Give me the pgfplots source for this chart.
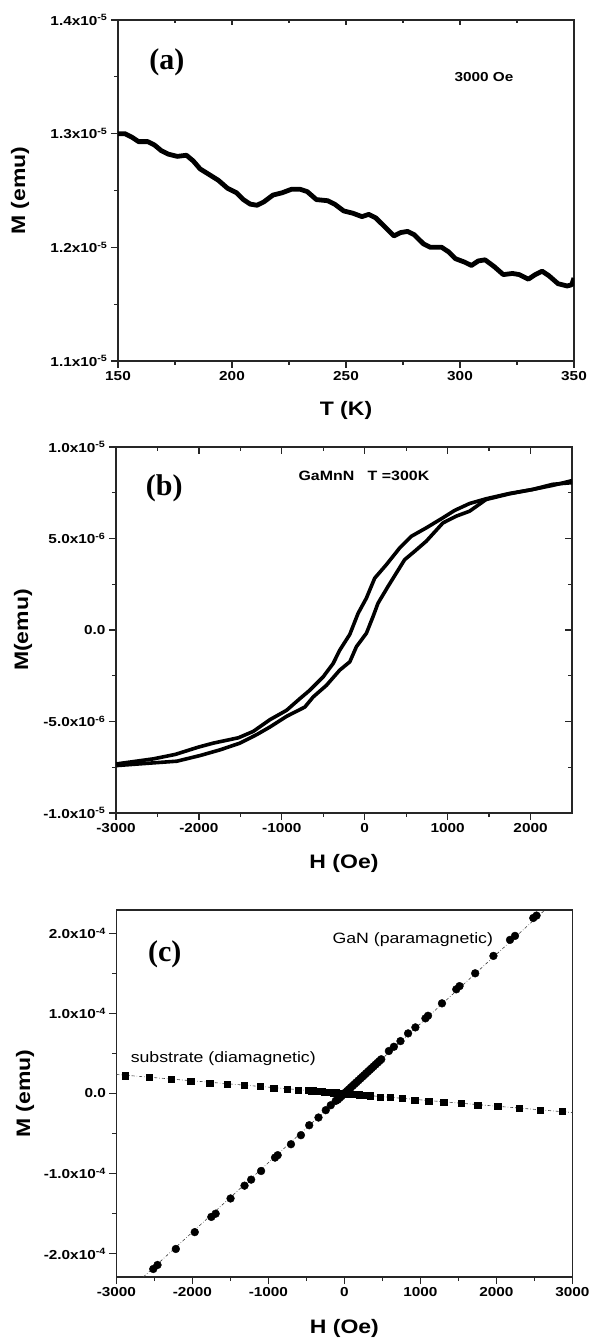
\documentclass[border=0pt]{standalone}
\usepackage{fontspec}
\setmainfont{Liberation Sans}[FakeStretch=1.18]
\newfontfamily\tnr{Liberation Serif}
\usepackage{pgfplots}
\pgfplotsset{compat=1.18}

\newcommand{\tl}{\fontsize{13}{15}\selectfont\bfseries}
\newcommand{\al}{\fontsize{19.5}{21}\selectfont\bfseries}
\newcommand{\pl}{\tnr\fontsize{30}{32}\selectfont\bfseries}
\newcommand{\sci}[2]{#1x10\textsuperscript{#2}}

\pgfplotsset{
  panel/.style={
    scale only axis, width=456pt, anchor=south west,
    axis line style={line width=1.4pt, black!85},
    every tick/.style={line width=1.2pt, black!85},
    major tick length=7pt, minor tick length=4pt,
    tick align=outside, xtick pos=left, ytick pos=left,
    minor x tick num=1, minor y tick num=1,
    tick label style={font=\tl},
    /pgf/number format/assume math mode=true,
    /pgf/number format/1000 sep={},
    label style={font=\al},
  },
  inticks/.style={
    panel, tick align=inside, xtick pos=right, ytick pos=right,
    xticklabels={}, yticklabels={}, axis line style={draw=none},
  },
}

\begin{document}
\begin{tikzpicture}
\path[use as bounding box] (0,0) rectangle (591pt,1338pt);

% ---------------- (a) M vs T
\begin{axis}[panel, at={(118pt,977pt)}, height=341pt,
  xmin=150, xmax=350, ymin=1.1, ymax=1.4,
  xtick={150,200,...,350}, ytick={1.1,1.2,1.3,1.4},
  yticklabels={\sci{1.1}{-5},\sci{1.2}{-5},\sci{1.3}{-5},\sci{1.4}{-5}},
  xlabel={T (K)}, ylabel={M (emu)},
  xlabel style={at={(axis description cs:0.5,-0.144)}, anchor=center},
  ylabel style={at={(axis description cs:-0.215,0.5)}, anchor=center},
]
\addplot[black, line width=4.8pt, line join=round] coordinates {
(150,1.300) (153,1.300) (156,1.297) (159,1.293) (163,1.293) (166,1.290)
(169,1.285) (172,1.282) (176,1.280) (180,1.281) (183,1.276) (186,1.269)
(190,1.264) (194,1.259) (198,1.252) (202,1.248) (205,1.242) (208,1.238)
(211,1.237) (214,1.240) (218,1.246) (222,1.248) (226,1.251) (230,1.251)
(233,1.249) (237,1.242) (242,1.241) (245,1.238) (249,1.232) (253,1.230)
(257,1.227) (260,1.229) (263,1.226) (267,1.218) (271,1.210) (274,1.213)
(277,1.214) (280,1.211) (284,1.203) (287,1.200) (292,1.200) (295,1.196)
(298,1.190) (302,1.187) (305,1.184) (308,1.188) (311,1.189) (315,1.183)
(319,1.176) (323,1.177) (326,1.176) (330,1.172) (333,1.176) (336,1.179)
(339,1.175) (343,1.168) (347,1.166) (349,1.167) (350,1.173)
};
\node[font=\pl] at (axis cs:171.4,1.363) {(a)};
\node[font=\tl] at (axis cs:310.5,1.350) {3000 Oe};
\end{axis}
\begin{axis}[inticks, at={(118pt,977pt)}, height=341pt,
  xmin=150, xmax=350, ymin=1.1, ymax=1.4,
  xtick={150,200,...,350}, ytick=\empty, major tick length=5pt, minor tick length=3pt]
\end{axis}

% ---------------- (b) hysteresis loop
\begin{axis}[panel, at={(116pt,525pt)}, height=366pt,
  xmin=-3000, xmax=2500, ymin=-10, ymax=10,
  xtick={-3000,-2000,...,2000}, ytick={-10,-5,0,5,10},
  yticklabels={\sci{-1.0}{-5},\sci{-5.0}{-6},0.0,\sci{5.0}{-6},\sci{1.0}{-5}},
  xlabel={H (Oe)}, ylabel={M(emu)},
  xlabel style={at={(axis description cs:0.5,-0.137)}, anchor=center},
  ylabel style={at={(axis description cs:-0.204,0.5)}, anchor=center},
]
\addplot[black, line width=3.6pt, line join=round] coordinates {
(-2996,-7.32) (-2547,-7.04) (-2286,-6.80) (-2006,-6.40) (-1825,-6.18)
(-1524,-5.89) (-1344,-5.54) (-1143,-4.90) (-943,-4.39) (-782,-3.75)
(-662,-3.29) (-501,-2.56) (-381,-1.83) (-301,-1.10) (-180,-0.24)
(-80,0.91) (20,1.74) (120,2.83) (261,3.57) (421,4.48) (562,5.12)
(742,5.58) (943,6.13) (1083,6.53) (1264,6.91) (1464,7.17) (1745,7.46)
(2026,7.68) (2266,7.90) (2500,8.16)
};
\addplot[black, line width=3.6pt, line join=round] coordinates {
(-2996,-7.41) (-2547,-7.26) (-2266,-7.17) (-1986,-6.86) (-1745,-6.55)
(-1504,-6.18) (-1304,-5.72) (-1143,-5.30) (-943,-4.72) (-722,-4.21)
(-622,-3.66) (-461,-3.02) (-301,-2.19) (-180,-1.74) (-100,-0.91)
(20,-0.18) (100,0.73) (160,1.46) (281,2.38) (381,3.11) (481,3.84)
(602,4.30) (742,4.85) (943,5.85) (1103,6.22) (1264,6.49) (1464,7.13)
(1745,7.44) (2026,7.68) (2266,7.96) (2500,8.05)
};
\node[font=\pl] at (axis cs:-2419,7.73) {(b)};
\node[font=\fontsize{13.5}{15}\selectfont\bfseries] at (axis cs:-10,8.4) {GaMnN\quad T =300K};
\end{axis}
\begin{axis}[inticks, at={(116pt,525pt)}, height=366pt,
  xmin=-3000, xmax=2500, ymin=-10, ymax=10,
  xtick={-3000,-2000,...,2000}, ytick={-10,-5,0,5,10}]
\end{axis}

% ---------------- (c) GaN and substrate
\begin{axis}[panel, at={(116.4pt,61pt)}, height=367pt,
  xmin=-3000, xmax=3000, ymin=-2.29, ymax=2.29,
  xtick={-3000,-2000,...,3000}, ytick={-2,-1,0,1,2},
  yticklabels={\sci{-2.0}{-4},\sci{-1.0}{-4},0.0,\sci{1.0}{-4},\sci{2.0}{-4}},
  xlabel={H (Oe)}, ylabel={M (emu)},
  xlabel style={at={(axis description cs:0.5,-0.139)}, anchor=center},
  ylabel style={at={(axis description cs:-0.2,0.5)}, anchor=center},
]
\addplot[black!75, line width=0.6pt, dash dot] coordinates {(-2646,-2.29) (2638,2.29)};
\addplot[black!75, line width=0.6pt, dash dot] coordinates {(-3000,0.2375) (3000,-0.2375)};
\addplot[only marks, mark=*, mark size=3.9pt, black] coordinates {
(-2515,-2.19) (-2459,-2.14) (-2218,-1.94) (-1969,-1.73) (-1751,-1.54)
(-1694,-1.50) (-1498,-1.31) (-1314,-1.15) (-1227,-1.075) (-1096,-0.967)
(-913,-0.80) (-878,-0.77) (-703,-0.633) (-572,-0.52) (-463,-0.396)
(-341,-0.30) (-245,-0.208) (-179,-0.146) (-114,-0.092)
(-90,-0.079) (-65,-0.057) (-40,-0.035) (-15,-0.013) (10,0.009) (35,0.031)
(60,0.053) (85,0.075) (110,0.097) (135,0.119) (160,0.141) (185,0.163)
(210,0.185) (235,0.207) (260,0.229) (285,0.251) (310,0.273) (335,0.295)
(360,0.317) (385,0.339) (410,0.361) (435,0.383) (460,0.405) (485,0.427)
(585,0.53) (651,0.583) (738,0.654) (838,0.75) (934,0.825) (1066,0.9375)
(1100,0.97) (1284,1.125) (1472,1.30) (1515,1.34) (1721,1.50) (1961,1.717)
(2179,1.917) (2245,1.967) (2485,2.19) (2528,2.22)
};
\addplot[only marks, mark=square*, mark size=3.1pt, black] coordinates {
(-2886,0.221) (-2568,0.200) (-2284,0.179) (-2022,0.158) (-1773,0.133)
(-1546,0.117) (-1314,0.100) (-1109,0.0875) (-930,0.071) (-755,0.058)
(-611,0.046) (-472,0.0375)
(-440,0.036) (-410,0.034) (-380,0.031) (-350,0.029) (-320,0.026) (-290,0.024)
(-260,0.021) (-230,0.019) (-200,0.016) (-170,0.014) (-140,0.011) (-110,0.009)
(-80,0.007) (-50,0.004) (-20,0.002) (10,-0.001) (40,-0.003) (70,-0.006)
(100,-0.008) (130,-0.011) (160,-0.013) (190,-0.016) (220,-0.018) (250,-0.021)
(280,-0.023) (310,-0.025) (340,-0.028)
(476,-0.042) (607,-0.050) (760,-0.0625) (926,-0.079) (1109,-0.092)
(1306,-0.108) (1533,-0.125) (1755,-0.142) (2017,-0.1625) (2297,-0.179)
(2572,-0.204) (2869,-0.225)
};
\node[font=\pl] at (axis cs:-2363,1.741) {(c)};
\node[font=\fontsize{15}{17}\selectfont] at (axis cs:900,1.916) {GaN (paramagnetic)};
\node[font=\fontsize{15}{17}\selectfont] at (axis cs:-1594,0.4375) {substrate (diamagnetic)};
\end{axis}
\end{tikzpicture}
\end{document}
